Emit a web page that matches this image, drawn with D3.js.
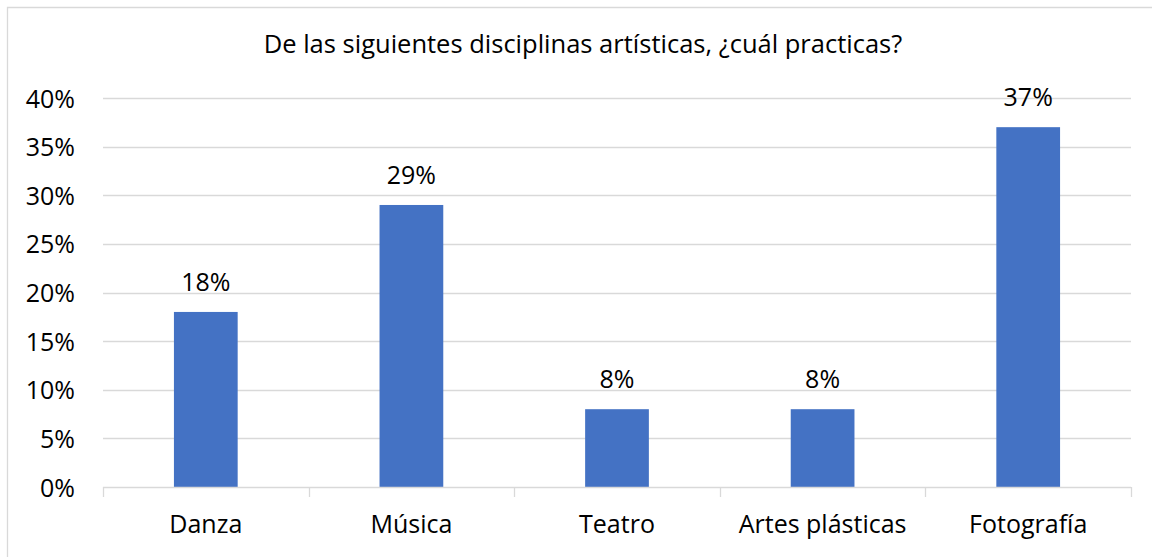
<!DOCTYPE html>
<html><head><meta charset="utf-8">
<script src="https://cdn.jsdelivr.net/npm/d3@7"></script>
<style>body{margin:0;background:#fff}svg{display:block}text{font-family:"Open Sans",sans-serif;fill:#000}</style>
</head><body><svg id="c" width="1152" height="557"></svg>
<script>
const categories = ["Danza","Música","Teatro","Artes plásticas","Fotografía"];
const values = [0.18,0.29,0.08,0.08,0.37];
const yTicks = [0,0.05,0.10,0.15,0.20,0.25,0.30,0.35,0.40];
const title = "De las siguientes disciplinas artísticas, ¿cuál practicas?";

const FS = "25px";
const svg = d3.select("#c");
const m = {left:103, right:1131, top:98, bottom:487};
// chart frame (only top and left edges visible in the crop)
svg.append("path").attr("d","M7.5,557V7.5H1152").attr("fill","none")
  .attr("stroke","#d9d9d9").attr("stroke-width",1.3);

const x = d3.scaleBand().domain(categories).range([m.left,m.right]).paddingInner(0.69).paddingOuter(0.345);
const xb = d3.scaleBand().domain(categories).range([m.left,m.right]);
const y = d3.scaleLinear().domain([0,0.40]).range([m.bottom,m.top]);
const fmt = d3.format(".0%");

// gridlines
svg.append("g").selectAll("line").data(yTicks.slice(1)).join("line")
  .attr("x1",m.left).attr("x2",m.right).attr("y1",d=>Math.round(y(d))+0.5).attr("y2",d=>Math.round(y(d))+0.5)
  .attr("stroke","#d9d9d9").attr("stroke-width",1.3);

// y axis labels
const yAxis = d3.axisLeft(y).tickValues(yTicks).tickFormat(fmt).tickSize(0).tickPadding(0);
const ya = svg.append("g").attr("transform",`translate(75,0)`).call(yAxis);
ya.select(".domain").remove();
ya.selectAll("text").style("font-family","'Open Sans', sans-serif").style("font-size",FS).attr("fill","#000").attr("dy","0.36em");

// bars
svg.append("g").selectAll("rect").data(values).join("rect")
  .attr("x",(d,i)=>x(categories[i])).attr("width",x.bandwidth())
  .attr("y",d=>y(d)).attr("height",d=>y(0)-y(d)).attr("fill","#4472c4");

// x axis
const xAxis = d3.axisBottom(xb).tickSize(0).tickPadding(0);
const xa = svg.append("g").attr("transform",`translate(0,${m.bottom})`).call(xAxis);
xa.select(".domain").attr("stroke","#d9d9d9").attr("stroke-width",1.3).attr("d",`M${m.left},0.5H${m.right}`);
xa.selectAll("text").style("font-family","'Open Sans', sans-serif").style("font-size",FS).attr("fill","#000").attr("y",46).attr("dy",0);
// category boundary ticks
svg.append("g").selectAll("line").data(d3.range(categories.length+1)).join("line")
  .attr("x1",i=>Math.round(m.left+i*xb.step())+0.5).attr("x2",i=>Math.round(m.left+i*xb.step())+0.5)
  .attr("y1",m.bottom).attr("y2",m.bottom+10).attr("stroke","#d9d9d9").attr("stroke-width",1.3);

// data labels
svg.append("g").selectAll("text").data(values).join("text")
  .attr("x",(d,i)=>xb(categories[i])+xb.bandwidth()/2).attr("y",d=>y(d)-21)
  .attr("text-anchor","middle").style("font-size",FS).text(d=>fmt(d));

// title
svg.append("text").attr("x",583).attr("y",53).attr("text-anchor","middle")
  .style("font-size","25.5px").text(title);
</script></body></html>
